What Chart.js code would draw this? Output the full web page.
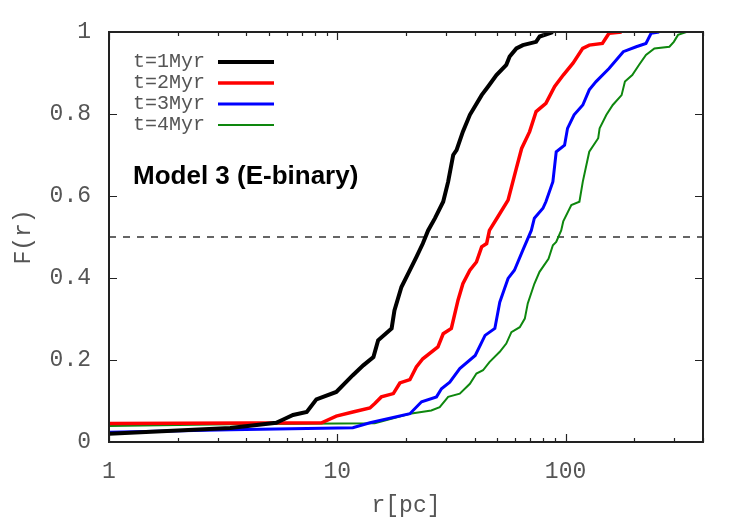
<!DOCTYPE html>
<html>
<head>
<meta charset="utf-8">
<script src="https://cdn.jsdelivr.net/npm/chart.js@4"></script>
<style>
  body { margin: 0; background: #fff; }
  canvas { display: block; }
</style>
</head>
<body>
<canvas id="cdfChart" width="750" height="525"></canvas>
<script>
// radii (pc) and cumulative fraction for each snapshot
const r1 = [1, 3.4, 5.4, 5.8, 6.4, 7.35, 8.1, 9.9, 11.7, 13.0, 14.4, 15.1, 17.3, 17.8, 19.1, 20.8, 22.2, 23.7, 25.0, 26.8, 29.1, 30.6, 32.2, 33.3, 35.5, 38.1, 42.9, 45.8, 49.8, 55.0, 56.9, 60.9, 65.0, 74.3, 77.0, 88.0];
const F1 = [0.02, 0.034, 0.047, 0.055, 0.066, 0.073, 0.104, 0.122, 0.163, 0.187, 0.207, 0.248, 0.277, 0.321, 0.378, 0.419, 0.451, 0.484, 0.516, 0.546, 0.586, 0.635, 0.700, 0.712, 0.757, 0.798, 0.846, 0.867, 0.895, 0.920, 0.940, 0.960, 0.968, 0.976, 0.989, 1.0];

const r2 = [1, 8.54, 9.9, 11.7, 13.9, 14.6, 15.6, 17.6, 18.8, 20.8, 22.2, 23.7, 27.6, 29.1, 31.6, 33.8, 35.5, 38.1, 40.7, 42.9, 45.1, 46.4, 50.6, 56.0, 60.9, 64.2, 69.6, 74.3, 82.0, 89.6, 97.7, 107.8, 118.9, 127.1, 145, 155, 176];
const F2 = [0.045, 0.047, 0.063, 0.073, 0.083, 0.094, 0.11, 0.118, 0.144, 0.152, 0.183, 0.203, 0.232, 0.264, 0.277, 0.346, 0.386, 0.419, 0.439, 0.476, 0.484, 0.516, 0.550, 0.590, 0.668, 0.716, 0.757, 0.806, 0.826, 0.867, 0.895, 0.924, 0.960, 0.968, 0.972, 0.997, 1.0];

const r3 = [1, 3.4, 11.7, 13.9, 20.8, 23.4, 27.2, 28.6, 31.1, 34.4, 40.2, 44.4, 49.0, 51.5, 56.0, 59.7, 65.0, 70.8, 73, 79.6, 82, 88, 91, 99, 102, 109, 119, 127, 136, 155, 179, 204, 225, 237, 257];
const F3 = [0.024, 0.030, 0.035, 0.047, 0.069, 0.098, 0.110, 0.130, 0.146, 0.179, 0.211, 0.260, 0.277, 0.341, 0.399, 0.419, 0.468, 0.516, 0.546, 0.570, 0.586, 0.635, 0.708, 0.724, 0.765, 0.798, 0.822, 0.859, 0.879, 0.911, 0.952, 0.964, 0.972, 0.997, 1.0];

const r4 = [1, 3.4, 14.6, 20.8, 25.8, 28.1, 30.6, 34.4, 38.1, 40.7, 43.5, 46.4, 51.5, 55, 57.9, 63, 66.3, 68.3, 73, 76.9, 84.2, 88, 91, 95.7, 97.7, 106, 115, 119, 127, 139, 141, 151, 161, 176, 182, 196, 210, 225, 245, 285, 298, 311, 338];
const F4 = [0.039, 0.043, 0.046, 0.069, 0.077, 0.085, 0.110, 0.118, 0.142, 0.167, 0.175, 0.195, 0.220, 0.240, 0.268, 0.280, 0.301, 0.338, 0.386, 0.415, 0.447, 0.480, 0.488, 0.516, 0.538, 0.578, 0.586, 0.635, 0.708, 0.741, 0.765, 0.798, 0.822, 0.846, 0.879, 0.895, 0.920, 0.944, 0.960, 0.964, 0.976, 0.993, 1.0];

const seriesNames = ['t=1Myr', 't=2Myr', 't=3Myr', 't=4Myr'];
const halfLevel = 0.5;
const xRange = [1, 400];
const xTickLabels = [1, 10, 100];
const yTickLabels = ['0', '0.2', '0.4', '0.6', '0.8', '1'];
const modelLabel = 'Model 3 (E-binary)';

const monoFont = '"Liberation Mono", "DejaVu Sans Mono", monospace';
const textGrey = '#555';

function toPoints(xs, ys){
  var pts = [];
  for (var i = 0; i < xs.length; i++){
    pts.push({x: xs[i], y: ys[i]});
  }
  return pts;
}

function makeSet(name, xs, ys, color, width){
  return {
    label: name,
    data: toPoints(xs, ys),
    borderColor: color,
    backgroundColor: color,
    borderWidth: width,
    pointRadius: 0,
    tension: 0,
    fill: false
  };
}

//inward ticks and frame like gnuplot
const framePlugin = {
  id: 'frame',
  afterDraw(chart){
    const ctx = chart.ctx;
    const a = chart.chartArea;
    const xs = chart.scales.x;
    const ys = chart.scales.y;
    ctx.save();
    ctx.strokeStyle = '#222';
    ctx.lineWidth = 1.2;
    ctx.beginPath();
    for (var dec = 1; dec <= 100; dec *= 10){
      for (var m = 1; m <= 9; m++){
        var v = dec * m;
        if (v > xRange[1]) break;
        var px = Math.round(xs.getPixelForValue(v)) + 0.5;
        var len = (m === 1) ? 8 : 4;
        ctx.moveTo(px, a.bottom); ctx.lineTo(px, a.bottom - len);
        ctx.moveTo(px, a.top); ctx.lineTo(px, a.top + len);
      }
    }
    for (var k = 0; k < yTickLabels.length; k++){
      var py = Math.round(ys.getPixelForValue(parseFloat(yTickLabels[k]))) + 0.5;
      ctx.moveTo(a.left, py); ctx.lineTo(a.left + 8, py);
      ctx.moveTo(a.right, py); ctx.lineTo(a.right - 8, py);
    }
    ctx.stroke();
    ctx.lineWidth = 2;
    ctx.strokeRect(a.left, a.top, a.right - a.left, a.bottom - a.top);

    // key
    const sets = chart.data.datasets;
    ctx.font = '20px ' + monoFont;
    ctx.textAlign = 'right';
    ctx.textBaseline = 'middle';
    for (var i = 0; i < seriesNames.length; i++){
      var ky = 62 + i * 21;
      ctx.fillStyle = textGrey;
      ctx.fillText(seriesNames[i], 205, ky);
      ctx.strokeStyle = sets[i].borderColor;
      ctx.lineWidth = sets[i].borderWidth;
      ctx.beginPath();
      ctx.moveTo(218, ky); ctx.lineTo(274, ky);
      ctx.stroke();
    }

    ctx.font = 'bold 26px "Liberation Sans", Arial, sans-serif';
    ctx.textAlign = 'left';
    ctx.fillStyle = '#000';
    ctx.fillText(modelLabel, 133, 177);
    ctx.restore();
  }
};

const datasets = [
  makeSet(seriesNames[0], r1, F1, '#000000', 4),
  makeSet(seriesNames[1], r2, F2, '#ff0000', 3.5),
  makeSet(seriesNames[2], r3, F3, '#0000ff', 3),
  makeSet(seriesNames[3], r4, F4, '#0e870e', 2),
  {
    label: 'half',
    data: [{x: xRange[0], y: halfLevel}, {x: xRange[1], y: halfLevel}],
    borderColor: '#000',
    borderWidth: 1.2,
    borderDash: [7, 7],
    pointRadius: 0
  }
];

new Chart(document.getElementById('cdfChart'), {
  type: 'line',
  data: { datasets: datasets },
  plugins: [framePlugin],
  options: {
    responsive: false,
    animation: false,
    layout: { padding: { top: 32, right: 47, left: 0, bottom: 0 } },
    plugins: {
      legend: { display: false },
      tooltip: { enabled: false }
    },
    scales: {
      x: {
        type: 'logarithmic',
        min: xRange[0],
        max: xRange[1],
        afterFit: function(s){ s.height = 83; },
        grid: { display: false, drawTicks: false },
        border: { display: false },
        ticks: {
          autoSkip: false,
          maxRotation: 0,
          padding: 16,
          color: textGrey,
          font: { family: monoFont, size: 23 },
          callback: function(v){ return xTickLabels.indexOf(v) >= 0 ? String(v) : ''; }
        },
        title: {
          display: true,
          text: 'r[pc]',
          color: textGrey,
          font: { family: monoFont, size: 23 },
          padding: { top: 0, bottom: 5 }
        }
      },
      y: {
        min: 0,
        max: 1,
        afterFit: function(s){ s.width = 109; },
        grid: { display: false, drawTicks: false },
        border: { display: false },
        ticks: {
          stepSize: 0.2,
          padding: 18,
          color: textGrey,
          font: { family: monoFont, size: 23 },
          callback: function(v, i){ return yTickLabels[i]; }
        },
        title: {
          display: true,
          text: 'F(r)',
          color: textGrey,
          font: { family: monoFont, size: 23 },
          padding: { top: 10, bottom: 0 }
        }
      }
    }
  }
});
</script>
</body>
</html>
